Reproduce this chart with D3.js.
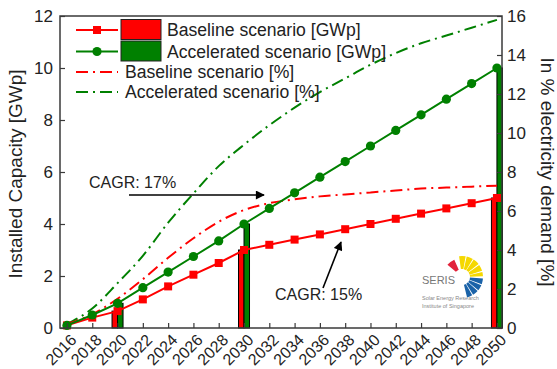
<!DOCTYPE html>
<html><head><meta charset="utf-8">
<script src="https://cdn.jsdelivr.net/npm/d3@7"></script>
<style>
body{margin:0;background:#fff;}
svg{display:block;font-family:Arial,"Liberation Sans",sans-serif;}
</style></head><body>
<svg id="c" width="557" height="369"></svg>
<script>
const years = [2016,2018,2020,2022,2024,2026,2028,2030,2032,2034,2036,2038,2040,2042,2044,2046,2048,2050];
const baselineGW = [0.1,0.4,0.65,1.1,1.6,2.05,2.5,3.0,3.2,3.4,3.6,3.8,4.0,4.2,4.4,4.6,4.8,5.0];
const acceleratedGW = [0.1,0.5,0.95,1.55,2.15,2.75,3.35,4.0,4.6,5.2,5.8,6.4,7.0,7.6,8.2,8.8,9.4,10.0];
const baselinePct = [0.2,0.7,1.5,2.5,3.6,4.6,5.45,6.05,6.4,6.6,6.75,6.85,6.95,7.05,7.15,7.2,7.25,7.3];
const acceleratedPct = [0.2,1.0,2.3,3.7,5.4,6.9,8.3,9.4,10.4,11.3,12.1,12.8,13.5,14.1,14.6,15.0,15.4,15.8];
const barYears = [2020,2030,2050];
const leftTicks = [0,2,4,6,8,10,12];
const rightTicks = [0,2,4,6,8,10,12,14,16];
const xTicks = years;
const legendLabels = ["Baseline scenario [GWp]","Accelerated scenario [GWp]","Baseline scenario [%]","Accelerated scenario [%]"];
const cagrLabels = ["CAGR: 17%","CAGR: 15%"];

const RED="#ff0000", GREEN="#008000", AX="#3a3a3a", TXT="#222";
const L=60,R=502,T=16,B=328;
const svg=d3.select("#c");
const x=d3.scaleLinear().domain([2015.45,2050.4]).range([L,R]);
const yL=d3.scaleLinear().domain([0,12]).range([B,T]);
const yR=d3.scaleLinear().domain([0,16]).range([B,T]);
const dashDot="12,5,2,5";

// bars
const bw=5.5;
barYears.forEach(yr=>{
  const i=years.indexOf(yr);
  svg.append("rect").attr("x",x(yr)-bw).attr("y",yL(baselineGW[i])).attr("width",bw).attr("height",B-yL(baselineGW[i]))
    .attr("fill",RED).attr("stroke","#000").attr("stroke-width",1);
  svg.append("rect").attr("x",x(yr)).attr("y",yL(acceleratedGW[i])).attr("width",bw).attr("height",B-yL(acceleratedGW[i]))
    .attr("fill",GREEN).attr("stroke","#000").attr("stroke-width",1);
});

// pct lines
const lineR=d3.line().x((d,i)=>x(years[i])).y(d=>yR(d)).curve(d3.curveMonotoneX);
svg.append("path").attr("d",lineR(acceleratedPct)).attr("fill","none").attr("stroke",GREEN).attr("stroke-width",2).attr("stroke-dasharray",dashDot);
svg.append("path").attr("d",lineR(baselinePct)).attr("fill","none").attr("stroke",RED).attr("stroke-width",2).attr("stroke-dasharray",dashDot);

// GW lines
const lineL=d3.line().x((d,i)=>x(years[i])).y(d=>yL(d));
svg.append("path").attr("d",lineL(baselineGW)).attr("fill","none").attr("stroke",RED).attr("stroke-width",2);
svg.selectAll(".sq").data(baselineGW).enter().append("rect")
  .attr("x",(d,i)=>x(years[i])-4).attr("y",d=>yL(d)-4).attr("width",8).attr("height",8).attr("fill",RED);
svg.append("path").attr("d",lineL(acceleratedGW)).attr("fill","none").attr("stroke",GREEN).attr("stroke-width",2);
svg.selectAll(".ci").data(acceleratedGW).enter().append("circle")
  .attr("cx",(d,i)=>x(years[i])).attr("cy",d=>yL(d)).attr("r",4.6).attr("fill",GREEN);

// axes (inward ticks)
const axL=svg.append("g").attr("transform",`translate(${L},0)`)
  .call(d3.axisLeft(yL).tickValues(leftTicks).tickSize(-5).tickPadding(7));
const axR=svg.append("g").attr("transform",`translate(${R},0)`)
  .call(d3.axisRight(yR).tickValues(rightTicks).tickSize(-5).tickPadding(5));
const axB=svg.append("g").attr("transform",`translate(0,${B})`)
  .call(d3.axisBottom(x).tickValues(xTicks).tickFormat(d3.format("d")).tickSize(-5));
[axL,axR,axB].forEach(g=>{
  g.select(".domain").remove();
  g.selectAll(".tick line").attr("stroke",AX).attr("stroke-width",1.2);
  g.selectAll("text").attr("font-size",17).attr("fill",TXT).attr("font-family","Arial,'Liberation Sans',sans-serif");
});
axB.selectAll("text").attr("font-size",16).attr("text-anchor","end").attr("dy","0.35em").attr("y",0)
  .attr("transform","translate(6,9) rotate(-45)");
svg.append("rect").attr("x",L).attr("y",T).attr("width",R-L).attr("height",B-T)
  .attr("fill","none").attr("stroke",AX).attr("stroke-width",1.5);

// axis titles
svg.append("text").attr("transform",`translate(22,${(T+B)/2+2}) rotate(-90)`).attr("text-anchor","middle")
  .attr("font-size",19).attr("fill",TXT).text("Installed Capacity [GWp]");
svg.append("text").attr("transform",`translate(541,${(T+B)/2}) rotate(90)`).attr("text-anchor","middle")
  .attr("font-size",19).attr("fill",TXT).text("In % electricity demand [%]");

// legend
const lg=svg.append("g");
const rowsY=[30,51.5,72,92];
lg.append("line").attr("x1",76).attr("x2",118).attr("y1",rowsY[0]).attr("y2",rowsY[0]).attr("stroke",RED).attr("stroke-width",2);
lg.append("rect").attr("x",93).attr("y",rowsY[0]-4).attr("width",8).attr("height",8).attr("fill",RED);
lg.append("rect").attr("x",121).attr("y",rowsY[0]-10.5).attr("width",40).attr("height",20).attr("fill",RED).attr("stroke","#222").attr("stroke-width",1);
lg.append("line").attr("x1",76).attr("x2",118).attr("y1",rowsY[1]).attr("y2",rowsY[1]).attr("stroke",GREEN).attr("stroke-width",2);
lg.append("circle").attr("cx",97).attr("cy",rowsY[1]).attr("r",4.6).attr("fill",GREEN);
lg.append("rect").attr("x",121).attr("y",rowsY[1]-10.5).attr("width",40).attr("height",20).attr("fill",GREEN).attr("stroke","#222").attr("stroke-width",1);
lg.append("line").attr("x1",76).attr("x2",118).attr("y1",rowsY[2]).attr("y2",rowsY[2]).attr("stroke",RED).attr("stroke-width",2).attr("stroke-dasharray",dashDot);
lg.append("line").attr("x1",76).attr("x2",118).attr("y1",rowsY[3]).attr("y2",rowsY[3]).attr("stroke",GREEN).attr("stroke-width",2).attr("stroke-dasharray",dashDot);
const lx=[167,167,125,125];
legendLabels.forEach((t,i)=>{
  lg.append("text").attr("x",lx[i]).attr("y",rowsY[i]).attr("dy","0.35em").attr("font-size",17.6).attr("fill",TXT).text(t);
});

// annotations
svg.append("defs").append("marker").attr("id","ah").attr("viewBox","0 0 10 10").attr("refX",9).attr("refY",5)
  .attr("markerWidth",11).attr("markerHeight",9).attr("orient","auto").attr("markerUnits","userSpaceOnUse")
  .append("path").attr("d","M0,0L10,5L0,10z").attr("fill","#000");
svg.append("line").attr("x1",129).attr("y1",195).attr("x2",264).attr("y2",195).attr("stroke","#000").attr("stroke-width",1.6).attr("marker-end","url(#ah)");
svg.append("text").attr("x",89).attr("y",182).attr("dy","0.35em").attr("font-size",16).attr("fill",TXT).text(cagrLabels[0]);
svg.append("line").attr("x1",323).attr("y1",288).attr("x2",341).attr("y2",242).attr("stroke","#000").attr("stroke-width",1.6).attr("marker-end","url(#ah)");
svg.append("text").attr("x",275).attr("y",294).attr("dy","0.35em").attr("font-size",16).attr("fill",TXT).text(cagrLabels[1]);

// SERIS logo
const logo=svg.append("g").attr("transform","translate(462,277)");
const segs=[
  {a0:-50,a1:-24,c:"#e2233b",ir:8,or:19},
  {a0:-8,a1:10,c:"#f5d800"},{a0:13,a1:31,c:"#f5d800"},{a0:34,a1:52,c:"#f5d800"},{a0:55,a1:73,c:"#f5d800"},{a0:76,a1:88,c:"#f5d800"},
  {a0:94,a1:110,c:"#1a62a8"},{a0:113,a1:129,c:"#1a62a8"},{a0:132,a1:148,c:"#1a62a8"},{a0:151,a1:166,c:"#1a62a8"}
];
segs.forEach(s=>{
  logo.append("path").attr("d",d3.arc().innerRadius(s.ir||8).outerRadius(s.or||21)
    .startAngle(s.a0*Math.PI/180).endAngle(s.a1*Math.PI/180)()).attr("fill",s.c);
});
svg.append("text").attr("x",422).attr("y",280).attr("dy","0.35em").attr("font-size",11).attr("fill","#777").text("SERIS");
svg.append("text").attr("x",422).attr("y",298).attr("dy","0.35em").attr("font-size",5.5).attr("fill","#888").text("Solar Energy Research");
svg.append("text").attr("x",422).attr("y",306).attr("dy","0.35em").attr("font-size",5.5).attr("fill","#888").text("Institute of Singapore");
</script>
</body></html>
